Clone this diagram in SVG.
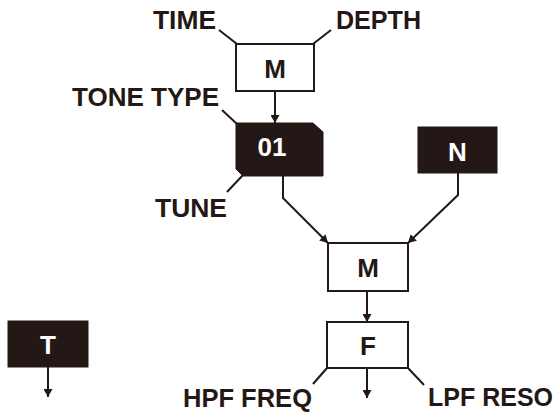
<svg xmlns="http://www.w3.org/2000/svg" width="560" height="412" viewBox="0 0 560 412">
<style>
.lbl{font-family:"Liberation Sans",Arial,sans-serif;font-size:25px;font-weight:bold;fill:#231815}
.box{fill:#ffffff;stroke:#231815;stroke-width:2}
.dark{fill:#231815;stroke:#231815;stroke-width:1}
.bt{font-family:"Liberation Sans",Arial,sans-serif;font-size:26px;font-weight:bold;text-anchor:middle}
.bt-d{fill:#231815}
.bt-l{fill:#ffffff}
.ln{fill:none;stroke:#231815;stroke-width:2}
.arr{marker-end:url(#ah)}
</style>
<defs>
<marker id="ah" viewBox="0 0 8 9" refX="8" refY="4.5" markerWidth="8" markerHeight="9" markerUnits="userSpaceOnUse" orient="auto">
<path d="M0,0 L8,4.5 L0,9 z" fill="#231815"/>
</marker>
</defs>
<rect width="560" height="412" fill="#ffffff"/>
<g id="connectors">
<line class="ln" x1="219" y1="30" x2="237" y2="44"/>
<line class="ln" x1="313" y1="44" x2="331" y2="30"/>
<line class="ln arr" x1="275" y1="91" x2="275" y2="123"/>
<line class="ln" x1="222" y1="110" x2="237" y2="124"/>
<line class="ln" x1="243" y1="175" x2="227" y2="192"/>
<polyline class="ln arr" points="283,176 283,198 328,243"/>
<polyline class="ln arr" points="458,173 458,195 408,243"/>
<line class="ln arr" x1="367" y1="291" x2="367" y2="322"/>
<line class="ln" x1="327" y1="368" x2="313" y2="384"/>
<line class="ln" x1="408" y1="368" x2="424" y2="385"/>
<line class="ln arr" x1="367" y1="368" x2="367" y2="398"/>
<line class="ln arr" x1="48" y1="367" x2="48" y2="397"/>
</g>
<g id="node-m-top">
<rect class="box" x="236" y="44" width="78" height="47"/>
<text class="bt bt-d" x="275" y="78">M</text>
</g>
<g id="node-01">
<polygon class="dark" points="236,123 313,123 323,132 323,176 243,176 236,169"/>
<text class="bt bt-l" x="272" y="156">01</text>
</g>
<g id="node-n">
<rect class="dark" x="418" y="127" width="79" height="46"/>
<text class="bt bt-l" x="457.5" y="161">N</text>
</g>
<g id="node-m-mid">
<rect class="box" x="328" y="243" width="80" height="48"/>
<text class="bt bt-d" x="368" y="277">M</text>
</g>
<g id="node-f">
<rect class="box" x="327" y="322" width="81" height="46"/>
<text class="bt bt-d" x="368" y="355">F</text>
</g>
<g id="node-t">
<rect class="dark" x="8" y="321" width="80" height="46"/>
<text class="bt bt-l" x="48" y="354">T</text>
</g>
<g id="labels">
<text class="lbl" x="153" y="29" textLength="63" lengthAdjust="spacingAndGlyphs">TIME</text>
<text class="lbl" x="336" y="29" textLength="85" lengthAdjust="spacingAndGlyphs">DEPTH</text>
<text class="lbl" x="72" y="106" textLength="147" lengthAdjust="spacingAndGlyphs">TONE TYPE</text>
<text class="lbl" x="155" y="217" textLength="72" lengthAdjust="spacingAndGlyphs">TUNE</text>
<text class="lbl" x="183" y="407" textLength="129" lengthAdjust="spacingAndGlyphs">HPF FREQ</text>
<text class="lbl" x="428" y="406" textLength="125" lengthAdjust="spacingAndGlyphs">LPF RESO</text>
</g>
</svg>
